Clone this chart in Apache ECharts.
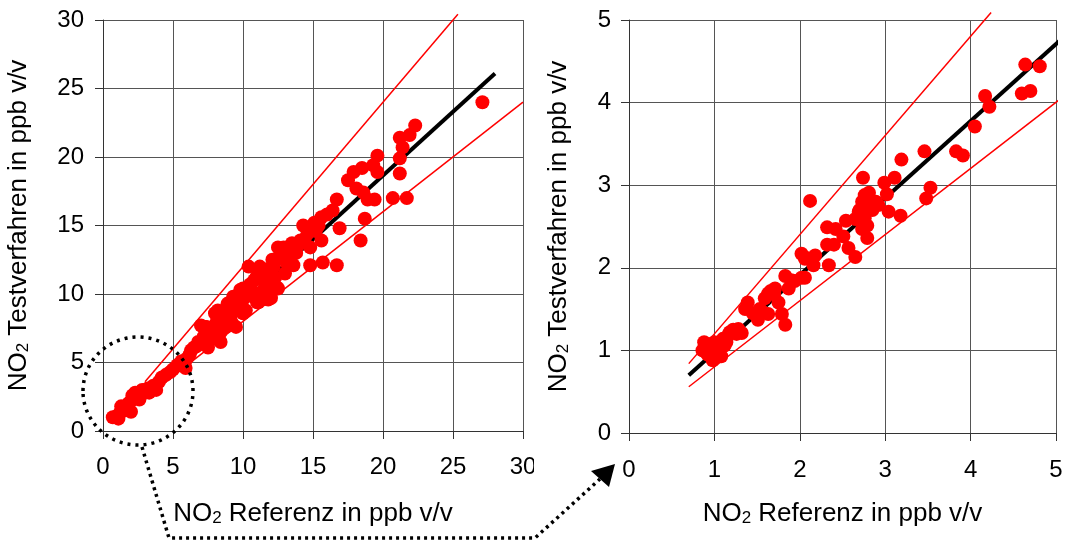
<!DOCTYPE html>
<html>
<head>
<meta charset="utf-8">
<script src="https://cdn.jsdelivr.net/npm/echarts@6/dist/echarts.min.js"></script>
<style>
  html, body { margin: 0; padding: 0; background: #fff; }
  #chart { width: 1066px; height: 545px; }
</style>
</head>
<body>
<div id="chart"></div>
<script>
// NO2 Vergleich: links Gesamtbereich 0-30, rechts Ausschnitt 0-5 ppb
var ticksLeft = [0, 5, 10, 15, 20, 25, 30];
var ticksRight = [0, 1, 2, 3, 4, 5];

// Messpunkte links [Referenz, Testverfahren]
var pointsLeft = [
  [0.7, 1.0], [1.0, 1.1], [1.1, 0.9], [1.2, 1.3], [1.3, 1.8], [1.5, 1.5], [1.6, 1.7],
  [1.8, 2.0], [2.0, 1.4], [2.0, 2.2], [2.1, 2.6], [2.3, 2.8], [2.4, 2.5], [2.6, 2.3],
  [2.7, 2.6], [2.8, 3.0], [3.0, 2.9], [3.2, 3.1], [3.3, 2.8], [3.5, 3.2], [3.6, 3.3],
  [3.8, 3.0], [4.0, 3.6], [4.2, 3.9], [4.5, 4.1], [4.8, 4.3], [5.0, 4.5], [5.3, 4.8],
  [5.6, 5.1], [5.8, 4.8], [5.9, 4.6], [6.0, 5.3], [6.2, 5.6], [6.3, 5.9], [6.5, 6.1],
  [6.7, 6.2], [6.8, 6.5], [7.0, 6.4], [7.0, 7.7], [7.2, 6.9], [7.3, 7.6], [7.4, 7.6],
  [7.5, 6.1], [7.6, 6.6], [7.8, 7.3], [8.0, 8.6], [8.0, 7.2], [8.1, 7.9], [8.2, 8.8],
  [8.4, 6.5], [8.4, 8.6], [8.4, 7.2], [8.5, 8.6], [8.7, 8.2], [8.8, 7.6], [8.9, 9.3],
  [9.0, 8.1], [9.0, 9.1], [9.1, 8.3], [9.2, 8.6], [9.2, 7.9], [9.3, 9.8], [9.3, 9.2],
  [9.5, 9.1], [9.5, 7.6], [9.6, 9.1], [9.7, 9.5], [9.8, 9.6], [9.8, 10.3], [10.0, 10.4],
  [10.0, 8.6], [10.0, 9.6], [10.2, 9.8], [10.2, 8.8], [10.3, 10.1], [10.4, 12.0],
  [10.5, 10.7], [10.5, 10.5], [10.6, 10.2], [10.8, 11.0], [10.8, 9.9], [11.0, 11.2],
  [11.0, 11.3], [11.0, 9.4], [11.1, 9.4], [11.2, 12.0], [11.3, 11.4], [11.4, 9.6],
  [11.4, 10.2], [11.5, 11.7], [11.6, 10.8], [11.7, 11.8], [11.7, 11.0], [11.8, 9.6],
  [11.9, 10.1], [12.0, 11.5], [12.0, 9.7], [12.1, 12.5], [12.2, 12.0], [12.3, 11.2],
  [12.4, 10.5], [12.5, 13.4], [12.5, 10.4], [12.6, 12.7], [12.8, 12.6], [12.9, 13.4],
  [13.0, 11.5], [13.1, 12.3], [13.2, 13.0], [13.4, 12.6], [13.5, 13.7], [13.6, 12.1],
  [13.8, 13.0], [13.9, 13.5], [14.1, 13.9], [14.3, 15.0], [14.4, 14.0], [14.6, 14.4],
  [14.8, 14.7], [14.8, 13.4], [14.8, 12.1], [15.1, 15.2], [15.2, 14.6], [15.4, 15.0],
  [15.6, 15.6], [15.6, 13.9], [15.7, 12.3], [16.0, 15.8], [16.4, 16.1], [16.7, 16.9],
  [16.7, 12.1], [16.9, 14.8], [17.5, 18.3], [17.9, 18.9], [18.1, 17.7], [18.4, 13.9],
  [18.5, 19.2], [18.6, 17.4], [18.7, 15.5], [18.9, 16.9], [19.3, 19.4], [19.4, 16.9],
  [19.6, 20.1], [19.6, 18.9], [20.7, 17.0], [21.2, 18.8], [21.2, 19.9], [21.2, 21.4],
  [21.4, 20.7], [21.7, 17.0], [21.9, 21.6], [22.3, 22.3], [27.1, 24.0]
];

// Messpunkte rechts (Ausschnitt)
var pointsRight = [
  [0.86, 1.00], [0.88, 1.10], [0.90, 0.98], [0.92, 0.95], [0.95, 1.07], [0.96, 1.04],
  [0.98, 0.88], [1.00, 1.10], [1.00, 0.91], [1.02, 1.02], [1.04, 1.00], [1.05, 0.95],
  [1.08, 0.93], [1.10, 1.14], [1.12, 1.06], [1.14, 1.10], [1.16, 1.18], [1.18, 1.22],
  [1.22, 1.25], [1.26, 1.20], [1.28, 1.26], [1.32, 1.21], [1.36, 1.50], [1.39, 1.58],
  [1.45, 1.45], [1.51, 1.37], [1.53, 1.50], [1.55, 1.48], [1.59, 1.63], [1.63, 1.44],
  [1.63, 1.69], [1.66, 1.72], [1.70, 1.68], [1.71, 1.75], [1.75, 1.58], [1.79, 1.44],
  [1.83, 1.31], [1.83, 1.90], [1.87, 1.75], [1.90, 1.85], [1.94, 1.84], [2.02, 1.88],
  [2.02, 2.17], [2.06, 2.11], [2.06, 1.88], [2.08, 2.12], [2.12, 2.81], [2.16, 2.03],
  [2.18, 2.15], [2.32, 2.49], [2.32, 2.28], [2.34, 2.03], [2.40, 2.28], [2.42, 2.47],
  [2.51, 2.38], [2.54, 2.57], [2.57, 2.24], [2.65, 2.13], [2.65, 2.59], [2.69, 2.68],
  [2.70, 2.70], [2.73, 2.80], [2.73, 2.47], [2.74, 3.09], [2.76, 2.60], [2.76, 2.88],
  [2.79, 2.51], [2.79, 2.36], [2.81, 2.91], [2.82, 2.75], [2.85, 2.70], [2.89, 2.80],
  [2.92, 2.76], [2.99, 3.03], [3.02, 2.89], [3.04, 2.68], [3.11, 3.09], [3.18, 2.63],
  [3.19, 3.31], [3.46, 3.41], [3.48, 2.84], [3.53, 2.97], [3.83, 3.41], [3.91, 3.36],
  [4.05, 3.71], [4.17, 4.08], [4.22, 3.95], [4.60, 4.11], [4.64, 4.46], [4.70, 4.14],
  [4.81, 4.44]
];

// Ausgleichsgerade und Grenzlinien (+/-20 %)
var fitLeft = [[0.7, 0.7], [28, 26.1]];
var upperLeft = [[3, 3.6], [25.35, 30.42]];
var lowerLeft = [[3, 2.4], [30, 24]];
var fitRight = [[0.7, 0.7], [5.12, 4.82]];
var upperRight = [[0.7, 0.84], [4.24, 5.09]];
var lowerRight = [[0.7, 0.56], [5.12, 4.1]];

var font = 'Liberation Sans, Arial, sans-serif';
var rich = {
  n: { fontSize: 26, fontFamily: font, color: '#000' },
  s: { fontSize: 17, fontFamily: font, color: '#000', verticalAlign: 'bottom' }
};
var xName = '{n|NO}{s|2}{n| Referenz in ppb v/v}';
var yName = '{n|NO}{s|2}{n| Testverfahren in ppb v/v}';

function valueAxis(grid, max, step, name, gap, labelMargin) {
  return {
    type: 'value', gridIndex: grid, min: 0, max: max, interval: step,
    name: name, nameLocation: 'middle', nameGap: gap,
    nameTextStyle: { rich: rich },
    axisLine: { show: true, lineStyle: { color: '#333', width: 1 } },
    axisTick: { show: true, length: 8, lineStyle: { color: '#333' } },
    axisLabel: { fontSize: 24, fontFamily: font, color: '#000', margin: labelMargin },
    splitLine: { show: true, lineStyle: { color: '#555', width: 1 } }
  };
}

var xLeft = valueAxis(0, 30, 5, xName, 70, 24);
var yLeft = valueAxis(0, 30, 5, yName, 71, 19);
yLeft.nameRotate = 90;
var xRight = valueAxis(1, 5, 1, xName, 68, 25);
var yRight = valueAxis(1, 5, 1, yName, 57, 18);
yRight.nameRotate = 90;

function lineSeries(xi, data, color, width) {
  return {
    type: 'line', xAxisIndex: xi, yAxisIndex: xi, data: data, z: 2,
    symbol: 'none', clip: false, silent: true,
    lineStyle: { color: color, width: width }
  };
}

function scatterSeries(xi, data) {
  return {
    type: 'scatter', xAxisIndex: xi, yAxisIndex: xi, data: data, z: 5,
    symbolSize: 14, itemStyle: { color: '#ff0000', opacity: 1 }
  };
}

var myChart = echarts.init(document.getElementById('chart'));
var option = {
  animation: false,
  backgroundColor: '#fff',
  grid: [
    { left: 103, top: 20, right: 543, bottom: 114 },
    { left: 629, top: 20, right: 10, bottom: 112 }
  ],
  xAxis: [xLeft, xRight],
  yAxis: [yLeft, yRight],
  series: [
    lineSeries(0, upperLeft, '#ff0000', 1.5),
    lineSeries(0, lowerLeft, '#ff0000', 1.5),
    lineSeries(0, fitLeft, '#000', 4),
    scatterSeries(0, pointsLeft),
    lineSeries(1, upperRight, '#ff0000', 1.5),
    lineSeries(1, lowerRight, '#ff0000', 1.5),
    lineSeries(1, fitRight, '#000', 4),
    scatterSeries(1, pointsRight)
  ],
  graphic: [
    // abgeschnittene "30" am rechten Rand links
    { type: 'rect', shape: { x: 534, y: 448, width: 16, height: 36 }, style: { fill: '#fff' }, z: 100 },
    // gepunktete Markierung und Pfeil
    { type: 'ellipse', shape: { cx: 138, cy: 391, rx: 55, ry: 54 },
      style: { fill: null, stroke: '#000', lineWidth: 3.5, lineDash: [3, 5] }, z: 100 },
    { type: 'polyline', shape: { points: [[142, 447], [169, 538], [535, 538], [600, 479]] },
      style: { fill: null, stroke: '#000', lineWidth: 3.5, lineDash: [3, 4] }, z: 100 },
    { type: 'polygon', shape: { points: [[615, 464], [591, 471], [609, 487]] },
      style: { fill: '#000' }, z: 100 }
  ]
};
myChart.setOption(option);
</script>
</body>
</html>
